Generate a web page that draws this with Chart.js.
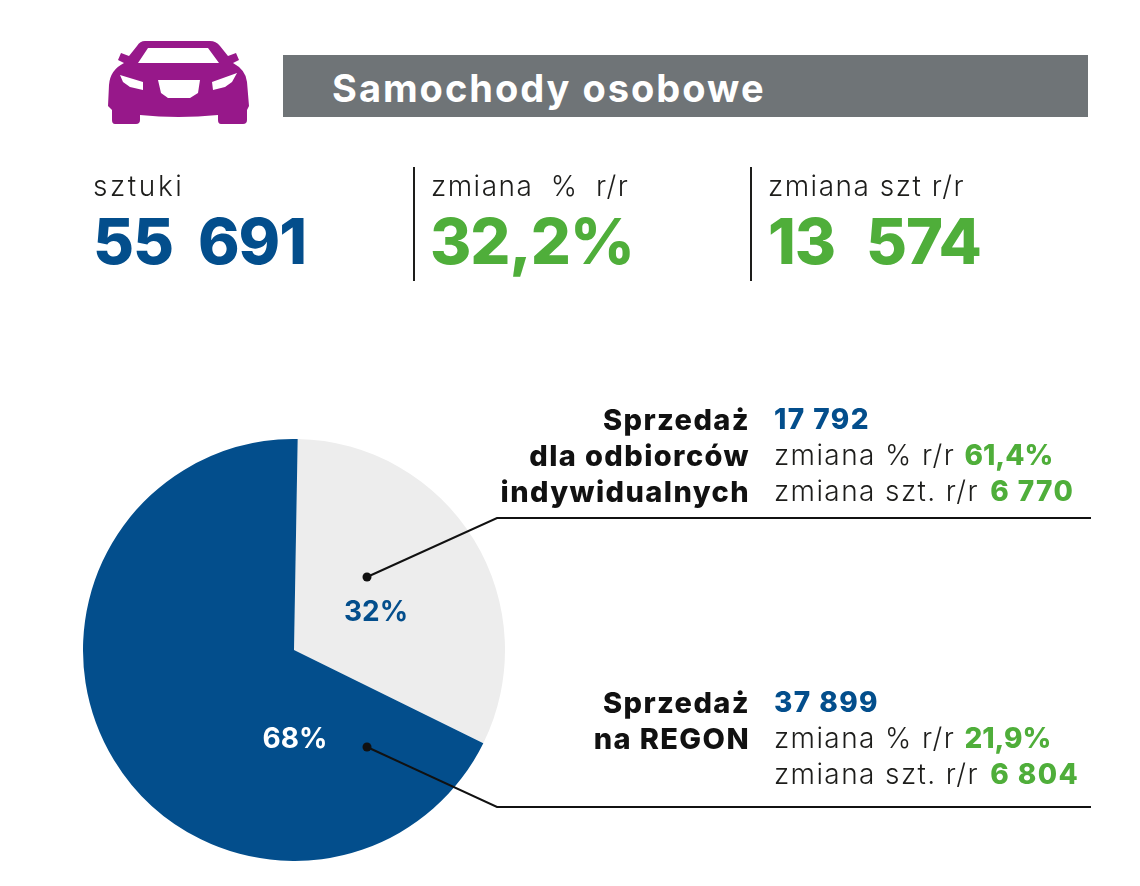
<!DOCTYPE html>
<html lang="pl">
<head>
<meta charset="utf-8">
<title>Samochody osobowe</title>
<script src="https://cdn.jsdelivr.net/npm/chart.js@4"></script>
<style>
  html, body { margin: 0; padding: 0; background: #fff; }
  #page { position: relative; width: 1140px; height: 886px; overflow: hidden; font-family: Inter, "Open Sans", sans-serif; color: #1d1d1b; }
  #page div { position: absolute; white-space: nowrap; line-height: 1; }
  #banner { left: 283px; top: 55px; width: 805px; height: 62px; background: #6f7477; }
  #title { left: 332px; top: 69px; font-size: 38px; font-weight: 700; letter-spacing: 2px; color: #fff; }
  .small { font-size: 28px; font-weight: 300; letter-spacing: 1.5px; top: 172px; }
  .big { font-size: 63px; font-weight: 800; letter-spacing: -1px; word-spacing: 12px; top: 210px; }
  .blue { color: #034e8c; }
  .green { color: #4fae3a; }
  .rule { width: 2px; height: 114px; top: 167px; background: #1d1d1b; }
  .head { font-size: 29px; font-weight: 800; letter-spacing: 1.4px; text-align: right; right: 390px; color: #111; }
  .val { font-size: 28px; font-weight: 300; letter-spacing: 1.4px; left: 774px; }
  .val b { font-weight: 800; }
  .val b.pct { letter-spacing: 0; }
  .val b.num { margin-left: 2px; }
  #chartBox { left: 83px; top: 439px; width: 422px; height: 422px; }
  svg { position: absolute; left: 0; top: 0; }
</style>
</head>
<body>
<div id="page">
  <div id="chartBox"><canvas id="pie" width="422" height="422"></canvas></div>
  <svg width="1140" height="886">
    <path fill="#97188a" fill-rule="evenodd" d="M145 41 L210 41 Q216 41 220 46 L228 56 L236 53 L239 60 L233 63 Q246 70 247 82 L249 106 L247 110 L247 120 Q247 124 243 124 L221 124 Q218 124 218 120 L218 115 Q178 119 140 115 L140 120 Q140 124 136 124 L115 124 Q112 124 112 120 L112 110 L108 106 L109 85 Q110 70 124 63 L118 60 L121 53 L129 56 L137 46 Q140 41 145 41 Z
      M138 63 L148 48 L208 48 L219 63 Z
      M120 75 L143 82 L143 90 L130 87 L123 82 Z
      M212 82 L237 73 L232 82 L225 87 L213 90 Z
      M158 80 L200 80 L198 93 L190 98 L168 98 L161 93 Z"/>
    <g fill="none" stroke="#111" stroke-width="2">
      <polyline points="367,577 497,518 1091,518"/>
      <polyline points="367,747 497,807 1091,807"/>
    </g>
    <circle cx="367" cy="577" r="4.5" fill="#111"/>
    <circle cx="367" cy="747" r="4.5" fill="#111"/>
  </svg>
  <div id="banner"></div>
  <div id="title">Samochody osobowe</div>

  <div class="small" style="left:93px;letter-spacing:2.6px">sztuki</div>
  <div class="big blue" style="left:93px">55 691</div>
  <div class="rule" style="left:413px"></div>
  <div class="small" style="left:431px;word-spacing:8px">zmiana % r/r</div>
  <div class="big green" style="left:430px">32,2%</div>
  <div class="rule" style="left:750px"></div>
  <div class="small" style="left:768px">zmiana szt r/r</div>
  <div class="big green" style="left:768px;word-spacing:18px">13 574</div>

  <div class="head" style="top:405px">Sprzedaż</div>
  <div class="head" style="top:441px">dla odbiorców</div>
  <div class="head" style="top:477px">indywidualnych</div>
  <div class="val" style="top:405px"><b class="blue">17 792</b></div>
  <div class="val" style="top:441px">zmiana % r/r <b class="green pct">61,4%</b></div>
  <div class="val" style="top:477px">zmiana szt. r/r <b class="green num">6 770</b></div>

  <div class="head" style="top:688px">Sprzedaż</div>
  <div class="head" style="top:724px">na REGON</div>
  <div class="val" style="top:688px"><b class="blue">37 899</b></div>
  <div class="val" style="top:724px">zmiana % r/r <b class="green pct">21,9%</b></div>
  <div class="val" style="top:760px">zmiana szt. r/r <b class="green num">6 804</b></div>
</div>
<script>
const categories = ['Sprzedaż dla odbiorców indywidualnych', 'Sprzedaż na REGON'];
const shares = [32, 68];
const sliceColors = ['#ededed', '#034e8c'];
const labelColors = ['#034e8c', '#ffffff'];

// percent labels, placed by hand relative to the pie centre like in the original
const labelShift = [[82, -37], [1, 90]];
const sliceLabels = {
  id: 'sliceLabels',
  afterDatasetsDraw(chart) {
    const ctx = chart.ctx;
    ctx.save();
    ctx.font = '700 28px Inter, sans-serif';
    ctx.textAlign = 'center';
    ctx.textBaseline = 'middle';
    chart.getDatasetMeta(0).data.forEach(function (arc, i) {
      ctx.fillStyle = labelColors[i];
      ctx.fillText(shares[i] + '%', arc.x + labelShift[i][0], arc.y + labelShift[i][1]);
    });
    ctx.restore();
  }
};

new Chart(document.getElementById('pie').getContext('2d'), {
  type: 'pie',
  data: {
    labels: categories,
    datasets: [{ data: shares, backgroundColor: sliceColors, borderWidth: 0 }]
  },
  options: {
    responsive: false,
    animation: false,
    rotation: 1,
    layout: { padding: 0 },
    plugins: { legend: { display: false }, tooltip: { enabled: false } }
  },
  plugins: [sliceLabels]
});
</script>
</body>
</html>
